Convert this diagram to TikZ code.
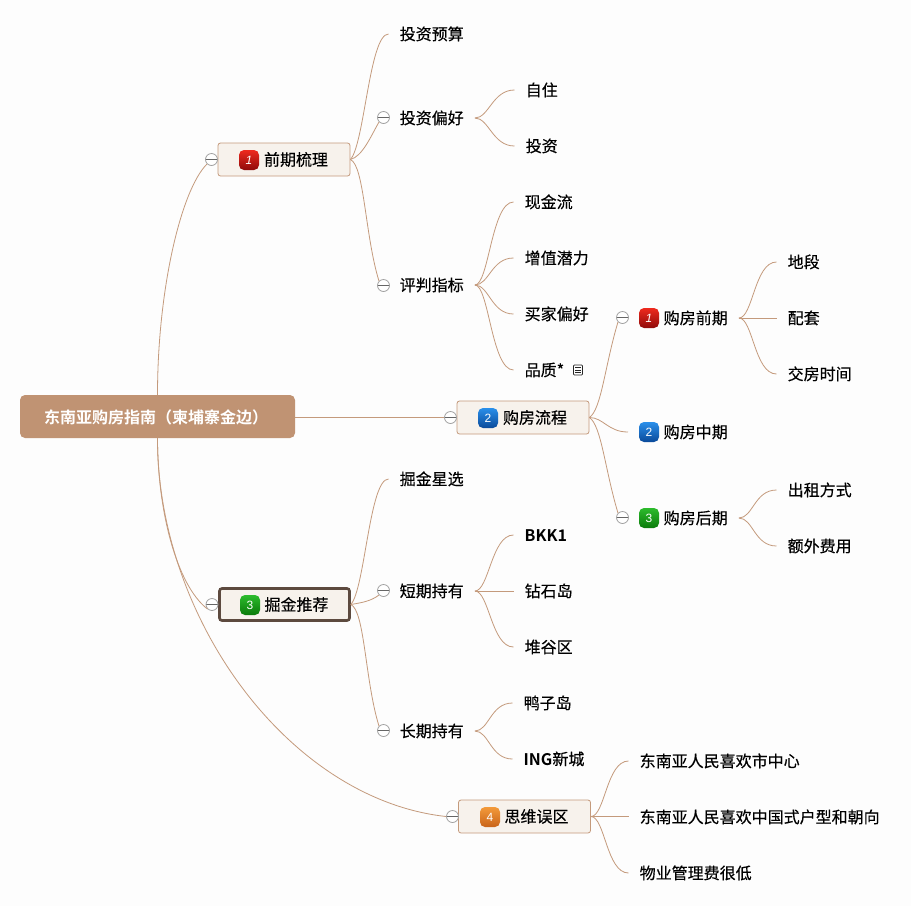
\documentclass[tikz,border=0pt]{standalone}
\usepackage{fontspec}
\setmainfont{Noto Sans CJK SC}[FakeBold=0.35]
\newfontfamily\iconfont{Liberation Sans}[BoldFont={Liberation Sans Bold}]
\newfontfamily\strongfont{Noto Sans CJK SC Bold}
\definecolor{pagebg}{HTML}{FDFDFD}
\definecolor{linkc}{HTML}{C49A7C}
\definecolor{rootc}{HTML}{C09373}
\definecolor{boxbg}{HTML}{F7F2EC}
\definecolor{darkb}{HTML}{5D4A3F}
\definecolor{circ}{HTML}{A0A0A0}
\definecolor{redt}{HTML}{EE2A1E}\definecolor{redb}{HTML}{8F0A0A}
\definecolor{bluet}{HTML}{2A8FEA}\definecolor{blueb}{HTML}{0A4A9A}
\definecolor{greent}{HTML}{2DBB2D}\definecolor{greenb}{HTML}{0A7A0A}
\definecolor{oranget}{HTML}{F39A3A}\definecolor{orangeb}{HTML}{C9641A}
\tikzset{
  link/.style={draw=linkc,line width=0.8pt},
  txt/.style={anchor=west,xshift=-11.5pt,inner xsep=11pt,inner ysep=0pt,text height=14pt,text depth=2pt,font=\fontsize{16}{18}\selectfont,text=black},
  fold/.style={circle,draw=circ,fill=white,line width=0.8pt,minimum size=12pt,inner sep=0pt,
    path picture={\draw[black!60,line width=0.7pt] (path picture bounding box.west) -- (path picture bounding box.east);}},
  topic/.style={rectangle,rounded corners=2.5pt,draw=linkc,fill=boxbg,line width=0.8pt,minimum width=132pt,minimum height=33pt,inner sep=0pt,font=\fontsize{16}{18}\selectfont,text=black},
  picked/.style={topic,draw=darkb,line width=2.6pt,minimum width=130pt,minimum height=32pt},
  badge/.style={rectangle,rounded corners=5pt,minimum size=20pt,inner sep=0pt,font=\iconfont\fontsize{12}{12}\selectfont,text=white,outer xsep=#1},
  badge/.default=0pt,
  bred/.style={top color=redt,bottom color=redb},
  bblue/.style={top color=bluet,bottom color=blueb},
  bgreen/.style={top color=greent,bottom color=greenb},
  borange/.style={top color=oranget,bottom color=orangeb},
  note/.style={rectangle,draw=black!85,line width=0.7pt,rounded corners=0.8pt,minimum width=9pt,minimum height=10pt,inner sep=0pt,
    path picture={\foreach \d in {2.5,5,7.5}{\draw[black!85,line width=0.6pt] ([xshift=1.5pt,yshift=\d pt]path picture bounding box.south west) -- ([xshift=-1.5pt,yshift=\d pt]path picture bounding box.south east);}}}
}
\newcommand{\linkto}[2]{\draw[link] (#1) .. controls +(14,0) and +(-22,0) .. (#2);}
\begin{document}
\begin{tikzpicture}[x=1pt,y=-1pt]
\fill[pagebg] (0,0) rectangle (911,906);
\useasboundingbox (0,0) rectangle (911,906);

% root and first level
\node[rectangle,rounded corners=5pt,fill=rootc,minimum width=275pt,minimum height=43pt,inner sep=0pt] (root) at (157.5,416.5) {};
\node[anchor=west,inner sep=0pt,text=white,font=\strongfont\fontsize{16}{18}\selectfont] (roottext) at (44,417) {东南亚购房指南（柬埔寨金边）};

\node[topic] (b1) at (284,159.5) {\hspace*{24pt}前期梳理};
\node[topic] (b2) at (523,417.5) {\hspace*{24pt}购房流程};
\node[picked] (b3) at (284.5,604.5) {\hspace*{24pt}掘金推荐};
\node[topic] (b4) at (524.5,816.5) {\hspace*{24pt}思维误区};
\node[badge,bred] (i1) at (249,160) {\textit{1}};
\node[badge,bblue] (i2) at (488,418) {2};
\node[badge,bgreen] (i3) at (250,605) {3};
\node[badge,borange] (i4) at (490,817) {4};

\node[fold] (f1) at (211.5,159.5) {};
\node[fold] (f2) at (450.5,417.5) {};
\node[fold] (f3) at (212,604.5) {};
\node[fold] (f4) at (452.5,816.5) {};

% second level, group 1
\node[txt] (a1) at (400,34) {投资预算};
\node[txt] (a2) at (400,118) {投资偏好};
\node[txt] (a3) at (400,285) {评判指标};
\node[fold] (fa2) at (383.5,117.5) {};
\node[fold] (fa3) at (383.5,285.5) {};
\node[txt] (a21) at (526,90) {自住};
\node[txt] (a22) at (526,146) {投资};
\node[txt] (a31) at (525,202) {现金流};
\node[txt] (a32) at (525,258) {增值潜力};
\node[txt] (a33) at (525,314) {买家偏好};
\node[txt] (a34) at (525,370) {品质*};
\node[note] (n34) at (578,370) {};

% second level, group 2
\node[badge,bred] (ci1) at (649,318) {\textit{1}};
\node[badge=11pt,bblue] (ci2) at (649,432) {2};
\node[badge,bgreen] (ci3) at (649,518) {3};
\node[txt] (c1) at (664,318) {购房前期};
\node[txt] (c2) at (664,432) {购房中期};
\node[txt] (c3) at (664,518) {购房后期};
\node[fold] (fc1) at (622.5,317.5) {};
\node[fold] (fc3) at (622.5,517.5) {};
\node[txt] (c11) at (788,262) {地段};
\node[txt] (c12) at (788,318) {配套};
\node[txt] (c13) at (788,374) {交房时间};
\node[txt] (c31) at (788,490) {出租方式};
\node[txt] (c32) at (788,546) {额外费用};

% second level, group 3
\node[txt] (d1) at (400,479) {掘金星选};
\node[txt] (d2) at (400,591) {短期持有};
\node[txt] (d3) at (400,731) {长期持有};
\node[fold] (fd2) at (383.5,590.5) {};
\node[fold] (fd3) at (383.5,730.5) {};
\node[txt] (d21) at (525,535) {{\strongfont BKK1}};
\node[txt] (d22) at (525,591) {钻石岛};
\node[txt] (d23) at (525,647) {堆谷区};
\node[txt] (d31) at (524,703) {鸭子岛};
\node[txt] (d32) at (524,759) {{\strongfont ING}新城};

% second level, group 4
\node[txt] (e1) at (640,761) {东南亚人民喜欢市中心};
\node[txt] (e2) at (640,817) {东南亚人民喜欢中国式户型和朝向};
\node[txt] (e3) at (640,873) {物业管理费很低};

% connectors from the root
\draw[link] (root.north) .. controls +(0,-105) and +(-26,26) .. (f1.south west);
\draw[link] (f2.west -| root.east) -- (f2.west);
\draw[link] (root.south) .. controls +(0,72) and +(-31,-24) .. (f3.south west);
\draw[link] (root.south) .. controls +(0,182) and +(-156,-17) .. (f4.west);

% connectors from the topics
\draw[link] (b1.east) .. controls +(14,-15) and +(-19,0) .. (a1.west);
\draw[link] (b1.east) .. controls +(12,-3) and +(-8,14) .. (fa2.south west);
\draw[link] (b1.east) .. controls +(14,6) and +(-14,-45) .. (fa3.north west);
\linkto{a2.east}{a21.west}
\linkto{a2.east}{a22.west}
\linkto{a3.east}{a31.west}
\linkto{a3.east}{a32.west}
\linkto{a3.east}{a33.west}
\linkto{a3.east}{a34.west}
\draw[link] (b2.east) .. controls +(12,-8) and +(-13,43) .. (fc1.south west);
\draw[link] (b2.east) .. controls +(14,0) and +(-20,0) .. (ci2.west);
\draw[link] (b2.east) .. controls +(12,8) and +(-13,-43) .. (fc3.north west);
\linkto{c1.east}{c11.west}
\draw[link] (c1.east) -- (c1.east -| c12.west);
\linkto{c1.east}{c13.west}
\linkto{c3.east}{c31.west}
\linkto{c3.east}{c32.west}
\draw[link] (b3.east) .. controls +(14,-15) and +(-19,0) .. (d1.west);
\draw[link] (b3.east) .. controls +(12,-2) and +(-8,6) .. (fd2.south west);
\draw[link] (b3.east) .. controls +(14,6) and +(-14,-45) .. (fd3.north west);
\linkto{d2.east}{d21.west}
\draw[link] (d2.east) -- (d2.east -| d22.west);
\linkto{d2.east}{d23.west}
\linkto{d3.east}{d31.west}
\linkto{d3.east}{d32.west}
\linkto{b4.east}{e1.west}
\draw[link] (b4.east) -- (b4.east -| e2.west);
\linkto{b4.east}{e3.west}
\end{tikzpicture}
\end{document}
